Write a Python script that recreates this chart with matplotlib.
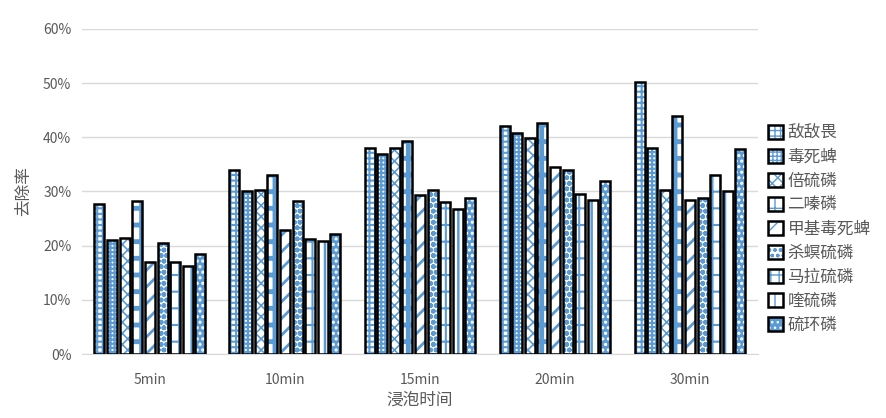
import numpy as np
import matplotlib
matplotlib.use('Agg')
import matplotlib.pyplot as plt
from matplotlib.patches import Patch
from matplotlib.ticker import PercentFormatter

plt.rcParams['font.family'] = ['Noto Sans CJK SC', 'DejaVu Sans']

# data (removal rate, %)
times = ['5min', '10min', '15min', '20min', '30min']
pesticides = ['敌敌畏', '毒死蜱', '倍硫磷', '二嗪磷', '甲基毒死蜱',
              '杀螟硫磷', '马拉硫磷', '喹硫磷', '硫环磷']
values = [
    [27.6, 34.0, 38.0, 42.0, 50.2],   # 敌敌畏
    [21.0, 30.0, 37.0, 40.8, 38.0],   # 毒死蜱
    [21.4, 30.3, 38.0, 39.8, 30.2],   # 倍硫磷
    [28.2, 33.0, 39.3, 42.7, 44.0],   # 二嗪磷
    [17.0, 22.8, 29.3, 34.5, 28.5],   # 甲基毒死蜱
    [20.5, 28.2, 30.3, 34.0, 28.8],   # 杀螟硫磷
    [17.0, 21.3, 28.0, 29.5, 33.0],   # 马拉硫磷
    [16.3, 20.8, 26.8, 28.5, 30.0],   # 喹硫磷
    [18.5, 22.2, 28.7, 32.0, 37.8],   # 硫环磷
]

blue = '#5B9BD5'
# (face, hatch colour, hatch, hatch linewidth)
styles = [
    ('white', blue, '+++', 1.5),
    ('white', blue, '++++', 1.6),
    ('white', blue, 'xxx', 1.2),
    ('white', blue, '+', 3.5),
    ('white', blue, '//', 2.0),
    ('white', blue, 'ooo', 1.8),
    ('white', blue, '-||', 1.5),
    ('white', blue, '|', 1.8),
    (blue, 'white', '...', 1.5),
]

fig = plt.figure(figsize=(8.86, 4.18), dpi=100)
ax = fig.add_axes([0.093, 0.153, 0.762, 0.778])

x = np.arange(len(times))
slot = 0.0934
width = 0.074
handles = []
for i, name in enumerate(pesticides):
    face, hc, hatch, hlw = styles[i]
    pos = x + (i - 4) * slot
    with plt.rc_context({'hatch.linewidth': hlw}):
        ax.bar(pos, values[i], width, color=face, edgecolor=hc, hatch=hatch,
               linewidth=0, zorder=2)
        hp = Patch(facecolor=face, edgecolor=hc, hatch=hatch, linewidth=0)
    ax.bar(pos, values[i], width, fill=False, edgecolor='black',
           linewidth=1.8, zorder=3)
    handles.append((hp, Patch(fill=False, edgecolor='black', linewidth=1.8)))

ax.set_xlim(-0.5, len(times) - 0.5)
ax.set_ylim(0, 60)
ax.set_yticks(np.arange(0, 61, 10))
ax.yaxis.set_major_formatter(PercentFormatter(decimals=0))
ax.set_xticks(x)
ax.set_xticklabels(times)
ax.grid(axis='y', color='#D9D9D9', linewidth=1, zorder=0)
ax.set_axisbelow(True)
for s in ['top', 'right', 'left']:
    ax.spines[s].set_visible(False)
ax.spines['bottom'].set_color('#D9D9D9')
ax.tick_params(axis='both', length=0, colors='#595959', labelsize=10)
ax.tick_params(axis='x', pad=14)
ax.tick_params(axis='y', pad=8)

ax.set_xlabel('浸泡时间', fontsize=12, color='#595959', labelpad=3)
ax.set_ylabel('去除率', fontsize=12, color='#595959', labelpad=8)

leg = ax.legend(handles, pesticides, loc='center left', bbox_to_anchor=(1.0, 0.385),
                frameon=False, fontsize=12, handlelength=0.9, handleheight=0.9,
                handletextpad=0.3, labelspacing=0.42, borderaxespad=0.2)
for t in leg.get_texts():
    t.set_color('#595959')

fig.savefig('out.png', dpi=100)
